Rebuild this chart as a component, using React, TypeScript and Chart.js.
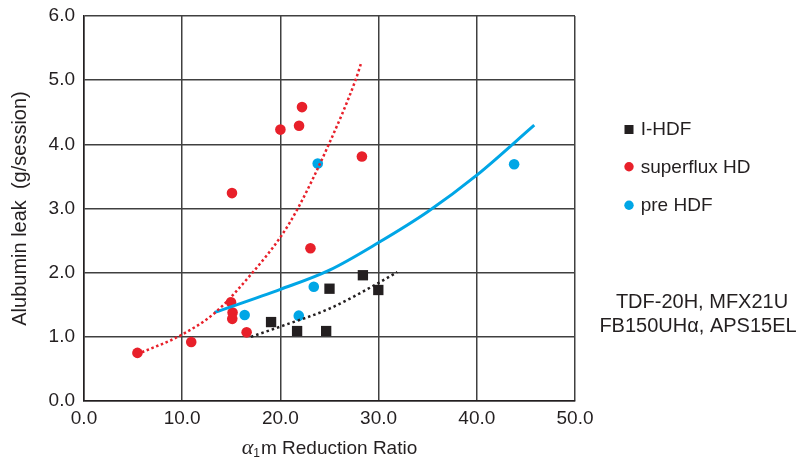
import React, { useEffect, useRef } from 'react';
import { Chart, registerables } from 'chart.js';

Chart.register(...registerables);

// ---- axis ticks ----
const X_TICKS = [0, 10, 20, 30, 40, 50];
const Y_TICKS = [0, 1, 2, 3, 4, 5, 6];

// ---- I-HDF (black squares) ----
const IHDF_X = [19.05, 21.7, 24.66, 25.0, 28.4, 29.97];
const IHDF_Y = [1.23, 1.09, 1.09, 1.75, 1.96, 1.73];

// ---- superflux HD (red circles) ----
const SUPER_X = [5.44, 10.92, 15.07, 14.97, 15.13, 15.1, 16.56, 20.0, 21.9, 22.2, 23.06, 28.3];
const SUPER_Y = [0.75, 0.92, 3.24, 1.54, 1.38, 1.28, 1.07, 4.23, 4.29, 4.58, 2.38, 3.81];

// ---- pre HDF (blue circles) ----
const PRE_X = [16.36, 21.87, 23.4, 23.8, 43.8];
const PRE_Y = [1.34, 1.33, 1.78, 3.7, 3.69];

// ---- trend lines ----
const SUPER_TREND_X = [5.9, 9.8, 13.37, 17.1, 20.03, 21.77, 24.93, 27.65, 28.23];
const SUPER_TREND_Y = [0.76, 1.02, 1.38, 1.99, 2.56, 3.0, 4.0, 5.0, 5.27];

const IHDF_TREND_X = [17.0, 20.0, 25.0, 30.0, 31.9];
const IHDF_TREND_Y = [1.0, 1.16, 1.44, 1.84, 2.01];

const PRE_TREND_X = [13.3, 20.0, 25.0, 30.0, 35.0, 40.0, 45.85];
const PRE_TREND_Y = [1.38, 1.74, 2.04, 2.47, 2.95, 3.52, 4.3];

const LABELS = ['I-HDF', 'superflux HD', 'pre HDF'];
const NOTE_LINES = ['TDF-20H, MFX21U', 'FB150UHα, APS15EL'];
const Y_TITLE = 'Alubumin leak  (g/session)';

const BLACK = '#231f20';
const RED = '#e8202a';
const BLUE = '#00a6e6';
const GRID = '#404040';
const SANS = '"Liberation Sans", Arial, Helvetica, sans-serif';

const zip = (xs: number[], ys: number[]) => xs.map((x, i) => ({ x, y: ys[i] }));

const overlayPlugin = {
  id: 'overlay',
  afterDraw(chart: any) {
    const ctx = chart.ctx as CanvasRenderingContext2D;
    const area = chart.chartArea;
    ctx.save();
    ctx.fillStyle = BLACK;

    // x-axis title: italic alpha, subscript 1, "m Reduction Ratio"
    const fA = 'italic 22px "Liberation Serif", "DejaVu Serif", serif';
    const fS = '12px ' + SANS;
    const fT = '19px ' + SANS;
    ctx.font = fA;
    const wA = ctx.measureText('α').width;
    ctx.font = fS;
    const wS = ctx.measureText('1').width;
    ctx.font = fT;
    const tRest = 'm Reduction Ratio';
    const wT = ctx.measureText(tRest).width;
    const total = wA + wS + 1 + wT;
    let x = (area.left + area.right) / 2 - total / 2;
    const yb = 454;
    ctx.textBaseline = 'alphabetic';
    ctx.textAlign = 'left';
    ctx.font = fA;
    ctx.fillText('α', x, yb);
    x += wA;
    ctx.font = fS;
    ctx.fillText('1', x, yb + 3);
    x += wS + 1;
    ctx.font = fT;
    ctx.fillText(tRest, x, yb);

    // legend
    const ds = chart.data.datasets;
    const lx = 629;
    const markerY = [129.5, 166.7, 205.3];
    const textY = [135, 173, 211];
    ctx.font = '19px ' + SANS;
    for (let i = 0; i < 3; i++) {
      const d = ds[i];
      ctx.fillStyle = d.backgroundColor;
      if (d.pointStyle === 'rect') {
        ctx.fillRect(lx - 4.5, markerY[i] - 4.5, 9, 9);
      } else {
        ctx.beginPath();
        ctx.arc(lx, markerY[i], 4.7, 0, Math.PI * 2);
        ctx.fill();
      }
      ctx.fillStyle = BLACK;
      ctx.fillText(d.label, 640.7, textY[i]);
    }

    // note text
    ctx.font = '20px ' + SANS;
    ctx.textAlign = 'center';
    ctx.fillText(NOTE_LINES[0], 702, 308);
    ctx.fillText(NOTE_LINES[1], 698, 332);
    ctx.restore();
  },
};

export default function App() {
  const ref = useRef<HTMLCanvasElement | null>(null);

  useEffect(() => {
    if (!ref.current) return;
    const chart = new Chart(ref.current, {
      type: 'scatter',
      data: {
        datasets: [
          {
            label: LABELS[0],
            data: zip(IHDF_X, IHDF_Y),
            pointStyle: 'rect',
            pointRadius: 7.3,
            backgroundColor: BLACK,
            borderColor: BLACK,
            borderWidth: 0,
            order: 2,
          },
          {
            label: LABELS[1],
            data: zip(SUPER_X, SUPER_Y),
            pointStyle: 'circle',
            pointRadius: 5.3,
            backgroundColor: RED,
            borderColor: RED,
            borderWidth: 0,
            order: 2,
          },
          {
            label: LABELS[2],
            data: zip(PRE_X, PRE_Y),
            pointStyle: 'circle',
            pointRadius: 5.3,
            backgroundColor: BLUE,
            borderColor: BLUE,
            borderWidth: 0,
            order: 2,
          },
          {
            label: 'superflux HD trend',
            data: zip(SUPER_TREND_X, SUPER_TREND_Y),
            showLine: true,
            pointRadius: 0,
            borderColor: RED,
            backgroundColor: RED,
            borderWidth: 2.5,
            borderDash: [2.5, 2.6],
            cubicInterpolationMode: 'monotone',
            order: 1,
          },
          {
            label: 'I-HDF trend',
            data: zip(IHDF_TREND_X, IHDF_TREND_Y),
            showLine: true,
            pointRadius: 0,
            borderColor: BLACK,
            backgroundColor: BLACK,
            borderWidth: 2.5,
            borderDash: [2.5, 3],
            cubicInterpolationMode: 'monotone',
            order: 1,
          },
          {
            label: 'pre HDF trend',
            data: zip(PRE_TREND_X, PRE_TREND_Y),
            showLine: true,
            pointRadius: 0,
            borderColor: BLUE,
            backgroundColor: BLUE,
            borderWidth: 3,
            cubicInterpolationMode: 'monotone',
            order: 1,
          },
        ],
      } as any,
      options: {
        animation: false,
        responsive: true,
        maintainAspectRatio: false,
        layout: { padding: { left: 0, right: 230, top: 16, bottom: 0 } },
        plugins: {
          legend: { display: false },
          tooltip: { enabled: false },
        },
        scales: {
          x: {
            type: 'linear',
            min: 0,
            max: 50,
            afterBuildTicks: (s: any) => {
              s.ticks = X_TICKS.map((v) => ({ value: v }));
            },
            afterFit: (s: any) => {
              s.height = 58;
              s.paddingLeft = 0;
              s.paddingRight = 0;
            },
            ticks: {
              padding: 6,
              color: BLACK,
              font: { family: SANS, size: 19 },
              callback: (v: any) => Number(v).toFixed(1),
              maxRotation: 0,
            },
            grid: { color: GRID, lineWidth: 1.5, drawTicks: false },
            border: { display: true, color: BLACK, width: 1.5 },
          },
          y: {
            type: 'linear',
            min: 0,
            max: 6,
            afterBuildTicks: (s: any) => {
              s.ticks = Y_TICKS.map((v) => ({ value: v }));
            },
            afterFit: (s: any) => {
              s.width = 84;
              s.paddingTop = 0;
              s.paddingBottom = 0;
            },
            ticks: {
              padding: 9,
              color: BLACK,
              font: { family: SANS, size: 19 },
              callback: (v: any) => Number(v).toFixed(1),
            },
            grid: { color: GRID, lineWidth: 1.5, drawTicks: false },
            border: { display: true, color: BLACK, width: 1.5 },
            title: {
              display: true,
              text: Y_TITLE,
              color: BLACK,
              font: { family: SANS, size: 20 },
              padding: { top: 8, bottom: 0 },
            },
          },
        },
      } as any,
      plugins: [overlayPlugin],
    });
    return () => chart.destroy();
  }, []);

  return (
    <div style={{ width: 805, height: 459, position: 'relative', margin: '-8px 0 0 -8px' }}>
      <canvas ref={ref} />
    </div>
  );
}
